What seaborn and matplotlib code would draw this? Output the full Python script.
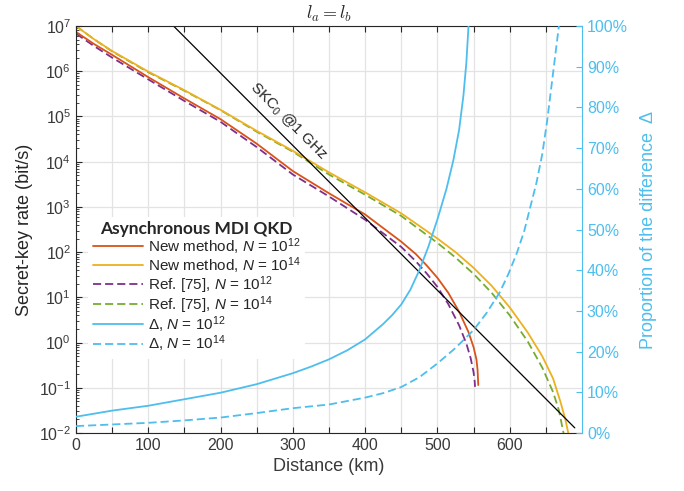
import numpy as np
import seaborn as sns
import matplotlib.pyplot as plt
from matplotlib import ticker

# ---- data ----
# key rate (bit/s) vs distance (km)
dist_new12 = [0, 25, 50, 100, 150, 200, 250, 300, 350, 400, 450, 470, 485, 500, 515, 530, 543, 550, 554, 555.5, 556.5]
rate_new12 = [7.4e6, 4.0e6, 2.3e6, 7.4e5, 2.5e5, 8.7e4, 2.5e4, 6.2e3, 2.0e3, 6.8e2, 1.7e2, 91, 51, 27, 12.6, 4.8, 1.7, 0.79, 0.42, 0.25, 0.115]

dist_new14 = [0, 25, 50, 100, 150, 200, 250, 300, 350, 400, 450, 500, 525, 550, 575, 600, 625, 645, 660, 670, 677, 683]
rate_new14 = [1.0e7, 5.1e6, 2.8e6, 9.8e5, 3.8e5, 1.4e5, 4.8e4, 1.74e4, 5.8e3, 2.1e3, 7.2e2, 2.0e2, 1.0e2, 45, 18, 6.0, 1.66, 0.5, 0.16, 0.05, 0.02, 0.007]

dist_ref12 = [0, 25, 50, 100, 150, 200, 250, 300, 350, 400, 450, 470, 485, 500, 515, 530, 540, 546, 550, 551.5, 552]
rate_ref12 = [6.8e6, 3.6e6, 2.0e6, 6.6e5, 2.2e5, 7.6e4, 2.1e4, 5.2e3, 1.7e3, 5.2e2, 1.3e2, 63, 34, 17, 7.1, 2.4, 0.95, 0.45, 0.22, 0.14, 0.105]

dist_ref14 = [0, 25, 50, 100, 150, 200, 250, 300, 350, 400, 450, 500, 525, 550, 575, 600, 625, 645, 660, 668, 675]
rate_ref14 = [1.0e7, 5.1e6, 2.75e6, 9.5e5, 3.7e5, 1.38e5, 4.6e4, 1.66e4, 5.2e3, 1.86e3, 6.3e2, 1.6e2, 76, 33, 12.6, 4.0, 1.05, 0.28, 0.08, 0.032, 0.009]

# SKC0 bound @ 1 GHz (straight line on the log axis)
dist_skc = [130, 690]
rate_skc = [1.2e7, 0.013]

# proportion of the difference (%)
dist_d12 = [0, 50, 100, 150, 200, 250, 300, 325, 350, 375, 400, 425, 437.5, 450, 462.5, 475, 487.5, 500, 512.5, 522, 530, 536, 540, 543]
pct_d12 = [4.0, 5.5, 6.7, 8.3, 9.9, 12.0, 14.7, 16.3, 18.1, 20.3, 23.0, 26.8, 29.0, 31.6, 35.2, 40.0, 45.8, 52.5, 60.0, 67.0, 74.5, 83.0, 91.0, 100.0]

dist_d14 = [0, 50, 100, 150, 200, 250, 300, 350, 400, 425, 450, 475, 500, 525, 550, 568, 586, 598, 610, 620, 628, 637, 645, 652, 660, 668]
pct_d14 = [1.7, 2.1, 2.5, 3.1, 3.8, 4.9, 6.1, 7.0, 8.7, 9.8, 11.3, 13.7, 17.1, 20.9, 25.3, 29.5, 34.5, 39.0, 44.3, 49.6, 55.2, 61.5, 68.5, 77.0, 88.5, 100.0]

labels = ['New method, $N$ = 10$^{12}$', 'New method, $N$ = 10$^{14}$',
          'Ref. [75], $N$ = 10$^{12}$', 'Ref. [75], $N$ = 10$^{14}$',
          '\u0394, $N$ = 10$^{12}$', '\u0394, $N$ = 10$^{14}$']

RED = '#D95319'
YELLOW = '#EDB120'
PURPLE = '#7E2F8E'
GREEN = '#77AC30'
BLUE = '#4DBEEE'
DARK = '#262626'
DASH = (0, (4.5, 2.2))

sns.set_theme(style='ticks')
plt.rcParams['font.family'] = ['Liberation Sans', 'DejaVu Sans']
plt.rcParams['mathtext.fontset'] = 'custom'
plt.rcParams['mathtext.rm'] = 'Liberation Sans'
plt.rcParams['mathtext.it'] = 'Liberation Sans:italic'
plt.rcParams['mathtext.bf'] = 'Liberation Sans:bold'

fig = plt.figure(figsize=(6.84, 4.91), dpi=100)
ax = fig.add_axes([0.1111, 0.1181, 0.7398, 0.8289])
ax2 = ax.twinx()

sns.lineplot(x=dist_ref12, y=rate_ref12, ax=ax, color=PURPLE, lw=1.3, linestyle=DASH, errorbar=None)
h_ref12 = ax.lines[-1]
sns.lineplot(x=dist_new12, y=rate_new12, ax=ax, color=RED, lw=1.3, errorbar=None)
h_new12 = ax.lines[-1]
sns.lineplot(x=dist_ref14, y=rate_ref14, ax=ax, color=GREEN, lw=1.3, linestyle=DASH, errorbar=None)
h_ref14 = ax.lines[-1]
sns.lineplot(x=dist_new14, y=rate_new14, ax=ax, color=YELLOW, lw=1.3, errorbar=None)
h_new14 = ax.lines[-1]
sns.lineplot(x=dist_skc, y=rate_skc, ax=ax, color='black', lw=0.9, errorbar=None)

sns.lineplot(x=dist_d12, y=pct_d12, ax=ax2, color=BLUE, lw=1.3, errorbar=None)
h_d12 = ax2.lines[-1]
sns.lineplot(x=dist_d14, y=pct_d14, ax=ax2, color=BLUE, lw=1.3, linestyle=DASH, errorbar=None)
h_d14 = ax2.lines[-1]

# left axis
ax.set_yscale('log')
ax.set_ylim(1e-2, 1e7)
ax.set_xlim(0, 700)
ax.yaxis.set_major_locator(ticker.LogLocator(base=10, numticks=12))
ax.yaxis.set_minor_locator(ticker.LogLocator(base=10, subs=np.arange(2, 10) * 1.0, numticks=12))
ax.yaxis.set_minor_formatter(ticker.NullFormatter())
ax.set_xticks(np.arange(0, 651, 50))
ax.xaxis.set_major_formatter(ticker.FuncFormatter(lambda v, p: f'{int(v)}' if v % 100 == 0 else ''))
ax.grid(True, which='major', color='#e3e3e3', lw=0.9)
ax.set_axisbelow(True)
ax.tick_params(axis='both', which='major', direction='in', length=4, width=0.8,
               top=True, right=False, color=DARK, labelcolor='#3a3a3a', labelsize=11.5)
ax.tick_params(axis='y', which='minor', direction='in', length=2, width=0.6, right=False, color=DARK)
for s in ['left', 'bottom', 'top']:
    ax.spines[s].set_color(DARK)
    ax.spines[s].set_linewidth(0.8)
ax.spines['right'].set_visible(False)
ax.set_xlabel('Distance (km)', fontsize=13, color='#3a3a3a', labelpad=4)
ax.set_ylabel('Secret-key rate (bit/s)', fontsize=13, color=DARK, labelpad=4)
ax.set_title(r'$l_a = l_b$', fontsize=13, math_fontfamily='cm', pad=5, color=DARK)

ax.text(293, 10 ** 4.9, r'SKC$_0$ @1 GHz', rotation=-45, ha='center', va='center',
        rotation_mode='anchor', fontsize=11, color=DARK)

# right axis
ax2.set_ylim(0, 100)
ax2.set_yticks(np.arange(0, 101, 10))
ax2.yaxis.set_major_formatter(ticker.PercentFormatter(xmax=100, decimals=0))
ax2.tick_params(axis='y', direction='in', length=4, width=0.8, color=BLUE,
                labelcolor=BLUE, labelsize=11.5)
for s in ['left', 'bottom', 'top']:
    ax2.spines[s].set_visible(False)
ax2.spines['right'].set_color(BLUE)
ax2.spines['right'].set_linewidth(0.8)
ax2.set_ylabel('Proportion of the difference  \u0394', fontsize=13, color=BLUE, labelpad=9)

leg = ax2.legend([h_new12, h_new14, h_ref12, h_ref14, h_d12, h_d14], labels,
                 loc='upper left', bbox_to_anchor=(0.024, 0.531), borderaxespad=0,
                 frameon=True, fancybox=False, framealpha=1, edgecolor='none',
                 facecolor='white', fontsize=11, title='Asynchronous MDI QKD',
                 title_fontproperties={'family': 'Lato', 'weight': 'bold', 'size': 12.5},
                 handlelength=3.3, handletextpad=0.3, labelspacing=-0.1, borderpad=0.3)
for t in leg.get_texts():
    t.set_color(DARK)
leg.get_title().set_color(DARK)

fig.savefig('out.png', dpi=100)
